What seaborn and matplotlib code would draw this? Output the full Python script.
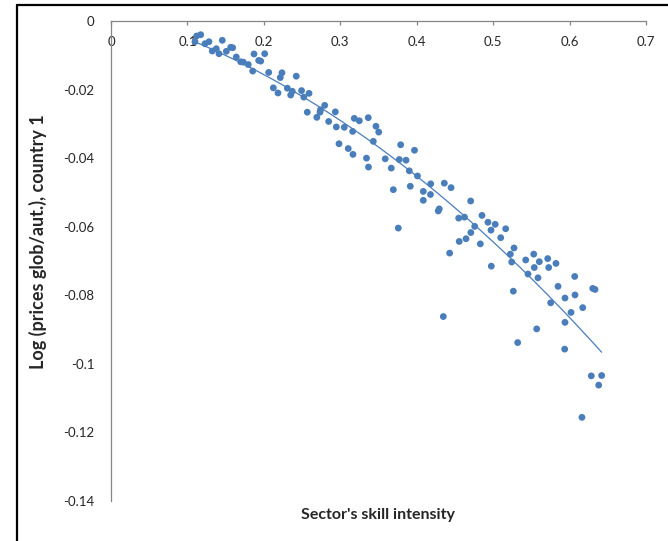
import numpy as np
import pandas as pd
import seaborn as sns
import matplotlib.pyplot as plt
from matplotlib.lines import Line2D

# sector skill intensity (x) and log price ratio (y)
skill = [
    0.1121, 0.1174, 0.1099, 0.1230, 0.1282, 0.1325, 0.1378, 0.1413, 0.1456, 0.1509,
    0.1566, 0.1592, 0.1639, 0.1697, 0.1731, 0.1796, 0.1854, 0.1871, 0.1932, 0.1959,
    0.2011, 0.2063, 0.2124, 0.2185, 0.2215, 0.2237, 0.2307, 0.2351, 0.2372, 0.2424,
    0.2493, 0.2523, 0.2591, 0.2568, 0.2693, 0.2735, 0.2741, 0.2796, 0.2848, 0.2935,
    0.2948, 0.3052, 0.2983, 0.3104, 0.3162, 0.3183, 0.3249, 0.3166, 0.3366, 0.3467,
    0.3503, 0.3432, 0.3343, 0.3369, 0.3588, 0.3667, 0.3790, 0.3772, 0.3860, 0.3971,
    0.3903, 0.4010, 0.3916, 0.3694, 0.4086, 0.4086, 0.4183, 0.4180, 0.4282, 0.4295,
    0.4361, 0.4449, 0.3759, 0.4549, 0.4625, 0.4706, 0.4759, 0.4708, 0.4556, 0.4645,
    0.4832, 0.4854, 0.4932, 0.5027, 0.4972, 0.5164, 0.5099, 0.4431, 0.4976, 0.5273,
    0.5225, 0.5243, 0.5426, 0.5531, 0.5604, 0.5714, 0.5822, 0.5727, 0.5538, 0.5456,
    0.5587, 0.6067, 0.5849, 0.5264, 0.6303, 0.6333, 0.5940, 0.6071, 0.5753, 0.6172,
    0.6019, 0.5940, 0.4348, 0.5570, 0.5321, 0.5936, 0.6284, 0.6420, 0.6381, 0.6162,
]
log_price = [
    -0.00437, -0.00400, -0.00604, -0.00662, -0.00604, -0.00875, -0.00808, -0.00954, -0.00563, -0.00884,
    -0.00767, -0.00779, -0.0105, -0.0119, -0.0120, -0.0127, -0.0146, -0.00962, -0.0115, -0.0117,
    -0.00954, -0.0150, -0.0195, -0.0210, -0.0165, -0.0151, -0.0196, -0.0216, -0.0205, -0.0161,
    -0.0203, -0.0222, -0.0211, -0.0266, -0.0281, -0.0266, -0.0259, -0.0246, -0.0293, -0.0265,
    -0.0309, -0.0310, -0.0358, -0.0372, -0.0322, -0.0284, -0.0291, -0.0389, -0.0282, -0.0307,
    -0.0324, -0.0351, -0.0400, -0.0426, -0.0402, -0.0429, -0.0361, -0.0404, -0.0406, -0.0377,
    -0.0437, -0.0452, -0.0482, -0.0492, -0.0497, -0.0523, -0.0475, -0.0506, -0.0554, -0.0548,
    -0.0473, -0.0486, -0.0604, -0.0575, -0.0572, -0.0525, -0.0599, -0.0617, -0.0643, -0.0635,
    -0.0650, -0.0567, -0.0587, -0.0593, -0.0610, -0.0606, -0.0632, -0.0677, -0.0715, -0.0662,
    -0.0680, -0.0703, -0.0697, -0.0680, -0.0702, -0.0693, -0.0707, -0.0719, -0.0719, -0.0738,
    -0.0749, -0.0745, -0.0774, -0.0788, -0.0780, -0.0783, -0.0808, -0.0799, -0.0822, -0.0836,
    -0.0850, -0.0879, -0.0862, -0.0898, -0.0938, -0.0957, -0.1035, -0.1034, -0.1062, -0.1156,
]
# quadratic trend line coefficients (a, b, c) as drawn in the chart
trend_coef = [-0.145, -0.0611, 0.00238]

x_ticks = [0, 0.1, 0.2, 0.3, 0.4, 0.5, 0.6, 0.7]
y_ticks = [0, -0.02, -0.04, -0.06, -0.08, -0.1, -0.12, -0.14]

df = pd.DataFrame({"skill": skill, "log_price": log_price})

sns.set_style("white")
plt.rcParams["font.family"] = ["Lato", "DejaVu Sans"]

blue = "#4A7EBB"
axis_grey = "#868686"

fig = plt.figure(figsize=(6.68, 5.41), dpi=100)
ax = fig.add_axes([111 / 668, 1 - 501 / 541, 535 / 668, 480 / 541])

sns.scatterplot(data=df, x="skill", y="log_price", ax=ax, color=blue,
                s=24, edgecolor="none", legend=False, zorder=3)

xs = np.linspace(df["skill"].min(), df["skill"].max(), 200)
trend = pd.DataFrame({"skill": xs, "fit": np.polyval(trend_coef, xs)})
sns.lineplot(data=trend, x="skill", y="fit", ax=ax, color=blue, linewidth=0.9, zorder=2)

ax.set_xlim(0, 0.7)
ax.set_ylim(-0.14, 0)
ax.set_xticks(x_ticks)
ax.set_xticklabels([f"{t:g}" for t in x_ticks])
ax.set_yticks(y_ticks)
ax.set_yticklabels([f"{t:g}" for t in y_ticks])

for side in ["top", "right"]:
    ax.spines[side].set_visible(False)
ax.spines["bottom"].set_position(("data", 0))
ax.spines["bottom"].set_color(axis_grey)
ax.spines["left"].set_color(axis_grey)
ax.spines["bottom"].set_linewidth(0.9)
ax.spines["left"].set_linewidth(0.9)

ax.tick_params(axis="x", direction="out", length=3, width=0.9, color=axis_grey,
               labelsize=9.5, pad=8, bottom=True)
ax.tick_params(axis="y", length=0, labelsize=9.5, pad=12, left=False)

ax.set_xlabel("")
ax.set_ylabel("")
fig.text(378 / 668, 1 - 515 / 541, "Sector's skill intensity", ha="center", va="center",
         fontsize=11.5, fontweight="bold")
fig.text(38 / 668, 1 - 242 / 541, "Log (prices glob/aut.), country 1", ha="center",
         va="center", rotation=90, fontsize=13, fontweight="bold")

# chart frame (only top and left edges visible in the crop)
fig.add_artist(Line2D([17 / 668, 1], [1 - 5 / 541, 1 - 5 / 541], color="black",
                      linewidth=1.6, transform=fig.transFigure))
fig.add_artist(Line2D([17 / 668, 17 / 668], [0, 1 - 5 / 541], color="black",
                      linewidth=1.6, transform=fig.transFigure))

fig.savefig("out.png", dpi=100)
